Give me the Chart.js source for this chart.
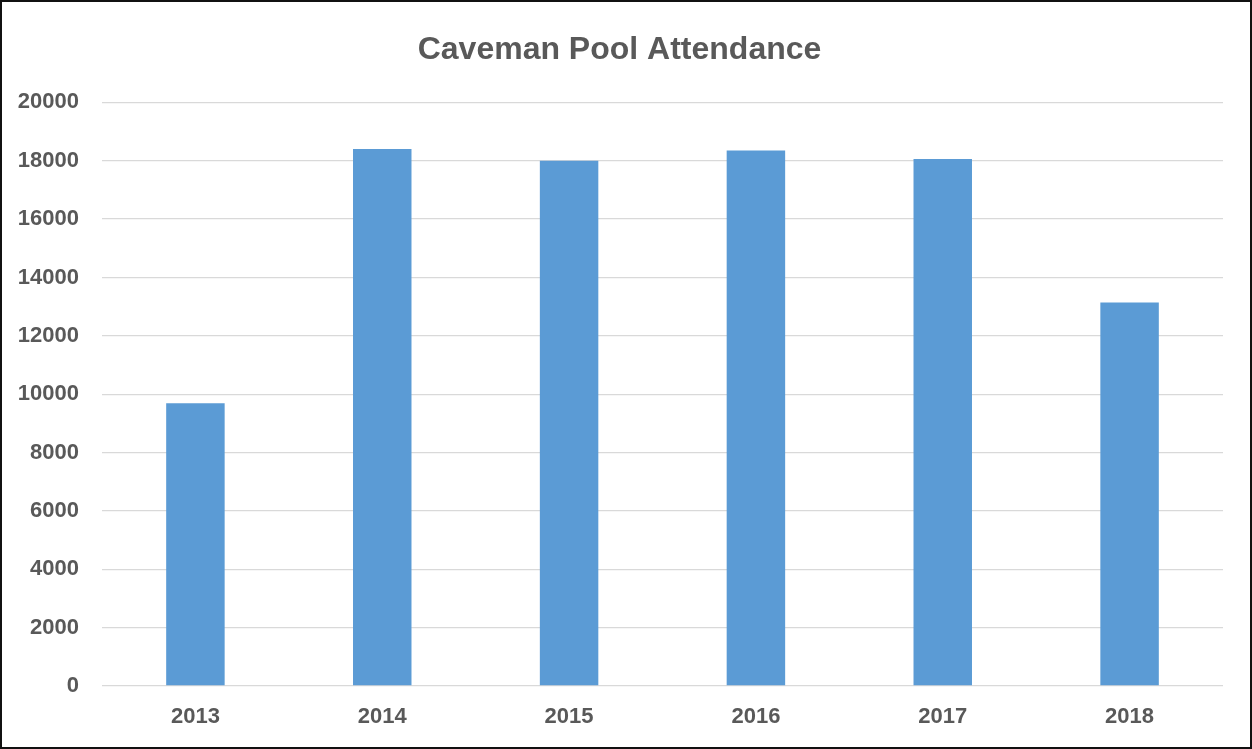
<!DOCTYPE html>
<html>
<head>
<meta charset="utf-8">
<script src="https://cdn.jsdelivr.net/npm/chart.js@4/dist/chart.umd.min.js"></script>
<style>
  html, body { margin: 0; padding: 0; background: #fff; }
  #wrap { position: relative; width: 1252px; height: 749px; }
  #c { position: absolute; left: 0; top: 0; }
  #frame { position: absolute; left: 0; top: 0; width: 1252px; height: 749px; box-sizing: border-box; border: 2px solid #111; pointer-events: none; }
</style>
</head>
<body>
<div id="wrap">
  <canvas id="c" width="1252" height="749"></canvas>
  <div id="frame"></div>
</div>
<script>
const title = "Caveman Pool Attendance";
const categories = ["2013", "2014", "2015", "2016", "2017", "2018"];
const attendance = [9690, 18400, 18000, 18350, 18060, 13140];
const yMin = 0, yMax = 20000, yStep = 2000;

const textColor = "#595959";
const fontFamily = "'Liberation Sans', Arial, sans-serif";

new Chart(document.getElementById("c"), {
  type: "bar",
  data: {
    labels: categories,
    datasets: [{
      label: "Attendance",
      data: attendance,
      backgroundColor: "#5B9BD5",
      borderWidth: 0,
      barPercentage: 0.313,
      categoryPercentage: 1.0
    }]
  },
  options: {
    responsive: false,
    animation: false,
    layout: { padding: { top: 0, left: 16, right: 29, bottom: 0 } },
    plugins: {
      legend: { display: false },
      tooltip: { enabled: false },
      title: {
        display: true,
        text: title,
        color: textColor,
        font: { family: fontFamily, size: 32, weight: "bold" },
        padding: { top: 31, bottom: 33 }
      }
    },
    scales: {
      x: {
        afterFit: s => { s.height = 63; },
        grid: { display: false, drawTicks: false },
        border: { display: false },
        ticks: { color: textColor, font: { family: fontFamily, size: 22, weight: "bold" }, padding: 18 }
      },
      y: {
        min: yMin, max: yMax,
        afterFit: s => { s.width = 86; },
        grid: { color: "#d9d9d9", lineWidth: 1.3, drawTicks: false },
        border: { display: false },
        ticks: {
          stepSize: yStep, color: textColor,
          font: { family: fontFamily, size: 22, weight: "bold" }, padding: 23,
          callback: v => String(v)
        }
      }
    }
  }
});
</script>
</body>
</html>
